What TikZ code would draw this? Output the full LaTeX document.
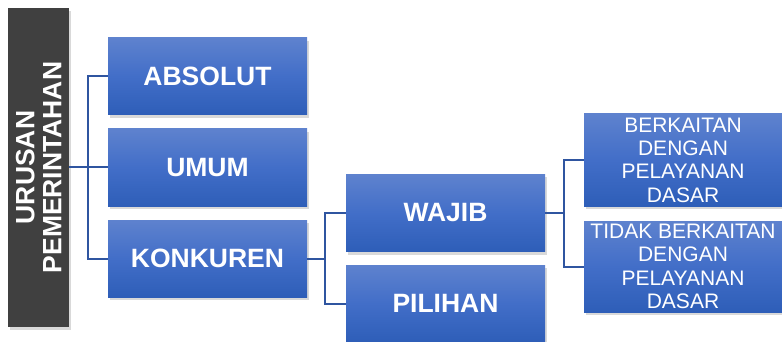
\documentclass[tikz,border=0pt]{standalone}
\usepackage{fontspec}
\setmainfont{Liberation Sans}
\usetikzlibrary{shadows}
\definecolor{boxtop}{RGB}{94,130,206}
\definecolor{boxmid}{RGB}{66,110,200}
\definecolor{boxbot}{RGB}{46,94,184}
\definecolor{conncol}{RGB}{47,85,160}
\definecolor{darkgrey}{RGB}{64,64,64}
\tikzset{
  bluebox/.style={rectangle, inner sep=0pt, text=white, top color=boxtop, bottom color=boxbot, middle color=boxmid,
    drop shadow={shadow xshift=2pt, shadow yshift=-3pt, opacity=0.3}},
  bigbox/.style={bluebox, minimum width=199pt, minimum height=77pt, font=\fontsize{26.5}{28}\selectfont\bfseries},
  smallbox/.style={bluebox, minimum width=198pt, align=center, font=\fontsize{21}{23.3}\selectfont},
  darkbox/.style={rectangle, inner sep=0pt, fill=darkgrey, text=white, align=center,
    drop shadow={shadow xshift=2pt, shadow yshift=-3pt, opacity=0.3},
    font=\fontsize{26.5}{27}\selectfont\bfseries},
  conn/.style={draw=conncol, line width=2pt}
}
\begin{document}
\begin{tikzpicture}[x=1pt, y=-1pt]
\useasboundingbox (0,0) rectangle (782,342);
\node[darkbox, minimum width=319pt, minimum height=61pt, rotate=90] (ur) at (38.5,167.5) {URUSAN\\PEMERINTAHAN};
\node[bigbox] (abs) at (207.5,76.5) {ABSOLUT};
\node[bigbox] (umum) at (207.5,167.5) {UMUM};
\node[bigbox] (kon) at (207.5,258.5) {KONKUREN};
\node[bigbox] (waj) at (445.5,213) {WAJIB};
\node[bigbox] (pil) at (445.5,303.5) {PILIHAN};
\node[smallbox, minimum height=92pt] (ber) at (683,160) {BERKAITAN\\DENGAN\\PELAYANAN\\DASAR};
\node[smallbox, minimum height=91pt] (tid) at (683,266.5) {TIDAK BERKAITAN\\DENGAN\\PELAYANAN\\DASAR};
\coordinate (j1) at (88,167.5);
\coordinate (j2) at (325,258.5);
\coordinate (j3) at (564,213);
\draw[conn] (ur.south) -- (umum.west);
\draw[conn] (abs.west) -| (j1) |- (kon.west);
\draw[conn] (kon.east) -- (j2);
\draw[conn] (waj.west) -| (j2) |- (pil.west);
\draw[conn] (waj.east) -- (j3);
\draw[conn] (ber.west) -| (j3) |- (tid.west);
\end{tikzpicture}
\end{document}
